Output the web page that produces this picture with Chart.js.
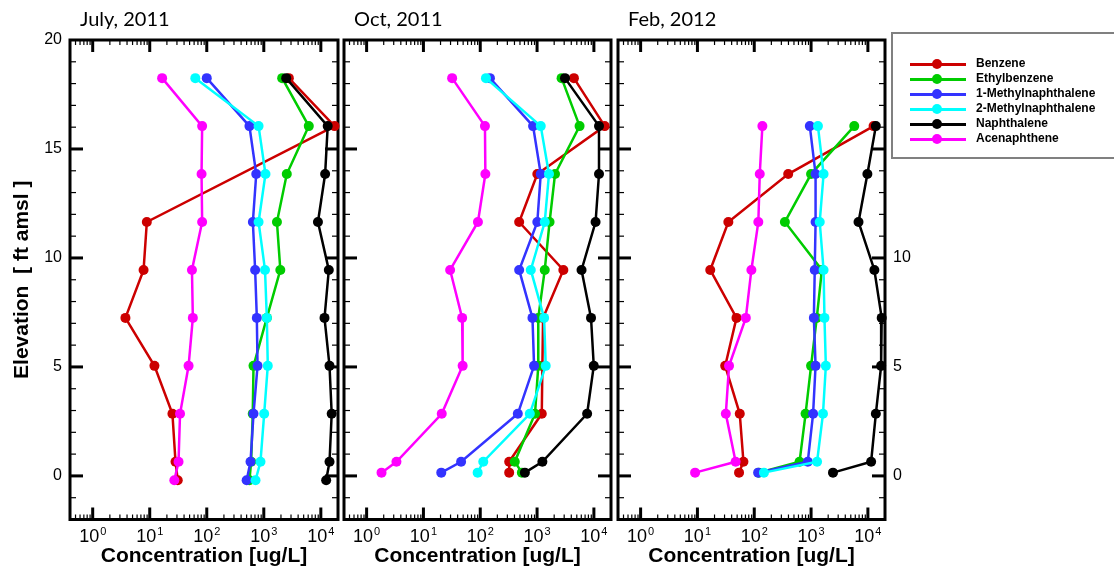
<!DOCTYPE html>
<html>
<head>
<meta charset="utf-8">
<script src="https://cdn.jsdelivr.net/npm/chart.js@4/dist/chart.umd.min.js"></script>
<style>
  html, body { margin: 0; padding: 0; background: #fff; }
  #wrap { position: relative; width: 1114px; height: 576px; overflow: hidden; }
  #wrap canvas { position: absolute; left: 0; top: 0; }
  #legend { position: absolute; left: 891px; top: 32px; width: 240px; height: 127px;
            border: 2px solid #808080; box-sizing: border-box; }
  .row { position: absolute; left: 0; height: 14px; }
  .row .ln { position: absolute; left: 17px; top: 6px; width: 56px; height: 3px; }
  .row .dot { position: absolute; left: 39px; top: 2px; width: 10px; height: 10px; border-radius: 50%; }
  .row .tx { position: absolute; left: 83px; top: -1px; white-space: nowrap;
             font: bold 12px "Liberation Sans", Arial, sans-serif; color: #000; }
</style>
</head>
<body>
<div id="wrap">
  <canvas id="c1" width="1114" height="576"></canvas>
  <canvas id="c2" width="1114" height="576"></canvas>
  <canvas id="c3" width="1114" height="576"></canvas>
  <div id="legend"></div>
</div>
<script>
// compounds and colours
var compounds = ['Benzene', 'Ethylbenzene', '1-Methylnaphthalene', '2-Methylnaphthalene', 'Naphthalene', 'Acenaphthene'];
var colors = ['#cc0000', '#00cc00', '#3333ff', '#00ffff', '#000000', '#ff00ff'];

// sampling elevations (ft amsl) for each event
var elevJul11 = [18.25, 16.05, 13.85, 11.65, 9.45, 7.25, 5.05, 2.85, 0.65, -0.2];
var elevOct11 = [18.25, 16.05, 13.85, 11.65, 9.45, 7.25, 5.05, 2.85, 0.65, 0.15];
var elevFeb12 = [16.05, 13.85, 11.65, 9.45, 7.25, 5.05, 2.85, 0.65, 0.15];

// concentrations (ug/L), same order as compounds; null = not reported
var jul11Benzene = [2750, 17400, null, 8.9, 7.8, 3.75, 12.1, 25, 28.3, 31];
var jul11Ethylbenzene = [2100, 6150, 2530, 1700, 1950, 1130, 660, 640, 600, 560];
var jul11MethylNaph1 = [100, 560, 737, 643, 705, 755, 777, 660, 585, 500];
var jul11MethylNaph2 = [63, 810, 1070, 810, 1050, 1130, 1175, 1015, 875, 716];
var jul11Naphthalene = [2470, 13200, 11900, 8900, 13800, 11600, 14200, 15500, 14200, 12400];
var jul11Acenaphthene = [16.5, 83, 81, 83, 55, 57, 48, 34, 32, 27];

var oct11Benzene = [4450, 15500, 1010, 484, 2900, 1275, 1240, 1210, 323, 323];
var oct11Ethylbenzene = [2700, 5600, 2070, 1660, 1365, 1050, 1050, 920, 405, 540];
var oct11MethylNaph1 = [148, 850, 1160, 1010, 484, 830, 885, 458, 46, 20.6];
var oct11MethylNaph2 = [126, 1160, 1620, 1365, 775, 1330, 1420, 745, 113, 90];
var oct11Naphthalene = [3100, 12300, 12300, 10700, 6060, 8900, 9950, 7600, 1240, 610];
var oct11Acenaphthene = [32, 121, 123, 91, 29.5, 48, 49, 21, 3.35, 1.83];

var feb12Benzene = [12600, 396, 35, 16.8, 48.7, 30.8, 55.6, 64.5, 54];
var feb12Ethylbenzene = [5750, 1000, 346, 1550, 1260, 1000, 800, 627, 120];
var feb12MethylNaph1 = [950, 1200, 1200, 1160, 1120, 1200, 1085, 875, 117];
var feb12MethylNaph2 = [1320, 1660, 1420, 1660, 1720, 1820, 1620, 1275, 148];
var feb12Naphthalene = [13800, 9800, 6840, 13000, 17500, 17100, 13800, 11400, 2430];
var feb12Acenaphthene = [139, 125, 118, 89, 71, 36, 31.6, 47, 9.1];

// axis limits and labels
var xMin = 0.4, xMax = 20000;
var xDecades = [1, 10, 100, 1000, 10000];
var yMin = -2, yMax = 20;
var yTicksLeft = [0, 5, 10, 15, 20];
var yTicksRight = [0, 5, 10];

var BASE_FONT = '"Liberation Sans", Arial, sans-serif';

function buildDatasets(elev, series) {
  return series.map(function(vals, i) {
    var pts = [];
    vals.forEach(function(v, k) { if (v !== null) pts.push({x: v, y: elev[k]}); });
    return {
      label: compounds[i],
      data: pts,
      borderColor: colors[i],
      backgroundColor: colors[i],
      pointBackgroundColor: colors[i],
      pointBorderWidth: 0,
      pointRadius: 5,
      borderWidth: 2.5,
      tension: 0,
      order: -i,
      clip: 12
    };
  });
}

// frame, inward ticks, decade labels and panel title
var panelDecor = {
  id: 'panelDecor',
  beforeDatasetsDraw: function(chart) {
    var ctx = chart.ctx, a = chart.chartArea, xs = chart.scales.x, ys = chart.scales.y;
    ctx.save();
    ctx.strokeStyle = '#000';
    ctx.lineCap = 'butt';
    function seg(x1, y1, x2, y2) { ctx.beginPath(); ctx.moveTo(x1, y1); ctx.lineTo(x2, y2); ctx.stroke(); }
    for (var e = -1; e <= 4; e++) {
      for (var m = 1; m <= 9; m++) {
        var v = m * Math.pow(10, e);
        if (v <= xMin || v >= xMax) continue;
        var px = xs.getPixelForValue(v);
        var len = m === 1 ? 12 : 5;
        ctx.lineWidth = m === 1 ? 3 : 1.2;
        seg(px, a.top, px, a.top + len);
        seg(px, a.bottom, px, a.bottom - len);
      }
    }
    for (var t = yMin + 1; t < yMax; t++) {
      var py = ys.getPixelForValue(t);
      var major = t % 5 === 0;
      ctx.lineWidth = major ? 3 : 1.2;
      var l = major ? 13 : 6;
      seg(a.left, py, a.left + l, py);
      seg(a.right, py, a.right - l, py);
    }
    ctx.lineWidth = 3;
    ctx.strokeRect(a.left, a.top, a.right - a.left, a.bottom - a.top);
    ctx.restore();
  },
  afterDraw: function(chart, args, opts) {
    var ctx = chart.ctx, a = chart.chartArea, xs = chart.scales.x;
    ctx.save();
    ctx.fillStyle = '#000';
    ctx.textBaseline = 'alphabetic';
    ctx.textAlign = 'left';
    var bigFont = '18px "Liberation Sans Narrow", ' + BASE_FONT;
    var smallFont = '11px "Liberation Sans Narrow", ' + BASE_FONT;
    xDecades.forEach(function(v, e) {
      var px = xs.getPixelForValue(v);
      ctx.font = bigFont;
      var wb = ctx.measureText('10').width;
      ctx.font = smallFont;
      var ws = ctx.measureText(String(e)).width;
      var x0 = px - (wb + ws + 1) / 2;
      ctx.font = bigFont;
      ctx.fillText('10', x0, 541.5);
      ctx.font = smallFont;
      ctx.fillText(String(e), x0 + wb + 1, 535);
    });
    ctx.font = '20px Lato, "Open Sans", sans-serif';
    ctx.fillText(opts.title, a.left + 10, 26);
    ctx.restore();
  }
};

function makePanel(id, title, elev, series, pad, yPos, yTicks, yWidth, showYTitle) {
  return new Chart(document.getElementById(id), {
    type: 'line',
    data: { datasets: buildDatasets(elev, series) },
    plugins: [panelDecor],
    options: {
      responsive: false,
      animation: false,
      events: [],
      layout: { padding: pad },
      plugins: {
        legend: { display: false },
        tooltip: { enabled: false },
        panelDecor: { title: title }
      },
      scales: {
        x: {
          type: 'logarithmic',
          min: xMin,
          max: xMax,
          grid: { display: false, drawTicks: false },
          border: { display: false },
          ticks: { display: false },
          title: {
            display: true,
            text: 'Concentration [ug/L]',
            color: '#000',
            font: { family: BASE_FONT, size: 21, weight: 'bold' },
            padding: { top: 0, bottom: 7 }
          },
          afterFit: function(s) { s.height = 56.5; }
        },
        y: {
          type: 'linear',
          position: yPos,
          display: yTicks !== null,
          min: yMin,
          max: yMax,
          grid: { display: false, drawTicks: false },
          border: { display: false },
          afterBuildTicks: function(s) {
            s.ticks = (yTicks || []).map(function(v) { return {value: v}; });
          },
          ticks: {
            color: '#000',
            padding: 8,
            font: { family: BASE_FONT, size: 16 }
          },
          title: {
            display: showYTitle,
            text: 'Elevation  [ ft amsl ]',
            color: '#000',
            font: { family: BASE_FONT, size: 21, weight: 'bold' },
            padding: { top: 10, bottom: 0 }
          },
          afterFit: function(s) { s.width = yWidth; }
        }
      }
    }
  });
}

makePanel('c1', 'July, 2011', elevJul11,
  [jul11Benzene, jul11Ethylbenzene, jul11MethylNaph1, jul11MethylNaph2, jul11Naphthalene, jul11Acenaphthene],
  {left: 0, right: 776, top: 40, bottom: 0}, 'left', yTicksLeft, 70, true);

makePanel('c2', 'Oct, 2011', elevOct11,
  [oct11Benzene, oct11Ethylbenzene, oct11MethylNaph1, oct11MethylNaph2, oct11Naphthalene, oct11Acenaphthene],
  {left: 344, right: 503, top: 40, bottom: 0}, 'left', null, 0, false);

makePanel('c3', 'Feb, 2012', elevFeb12,
  [feb12Benzene, feb12Ethylbenzene, feb12MethylNaph1, feb12MethylNaph2, feb12Naphthalene, feb12Acenaphthene],
  {left: 618, right: 189, top: 40, bottom: 0}, 'right', yTicksRight, 40, false);

// legend box
var legend = document.getElementById('legend');
compounds.forEach(function(name, i) {
  var row = document.createElement('div');
  row.className = 'row';
  row.style.top = (23 + i * 14.9) + 'px';
  row.innerHTML = '<div class="ln" style="background:' + colors[i] + '"></div>' +
                  '<div class="dot" style="background:' + colors[i] + '"></div>' +
                  '<div class="tx">' + name + '</div>';
  legend.appendChild(row);
});
</script>
</body>
</html>
